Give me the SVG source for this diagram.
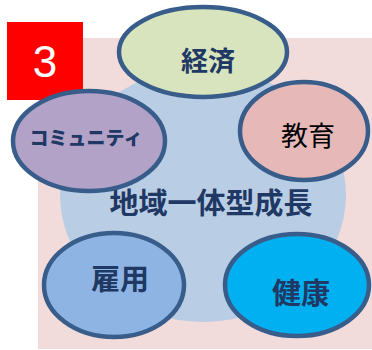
<svg xmlns="http://www.w3.org/2000/svg" width="372" height="350" viewBox="0 0 372 350">
<style>
.node{stroke:#385d8a;stroke-width:4.5}
.t{font-family:"Noto Sans CJK JP","Noto Sans",sans-serif;font-weight:700;fill:#1f3864;text-anchor:middle;dominant-baseline:central}
</style>
<rect x="0" y="0" width="372" height="350" fill="#ffffff"/>
<rect id="bg" x="38" y="38" width="334" height="311" fill="#f2dcdb"/>
<g id="badge">
<rect x="7" y="22" width="76" height="78" fill="#ff0000"/>
<text x="45" y="61" font-family="Liberation Sans,Arial,sans-serif" font-size="44" fill="#ffffff" text-anchor="middle" dominant-baseline="central">3</text>
</g>
<g id="center">
<ellipse cx="203" cy="195" rx="143" ry="127" fill="#b9cde5"/>
<text class="t" x="211" y="201" font-size="29">地域一体型成長</text>
</g>
<g id="connectors"></g>
<g id="keizai">
<ellipse class="node" cx="203" cy="52" rx="84" ry="45" fill="#d7e4bd"/>
<text class="t" x="208" y="59" font-size="27">経済</text>
</g>
<g id="kyoiku">
<ellipse class="node" cx="304" cy="131" rx="64" ry="49" fill="#e6b9b8"/>
<text class="t" x="308" y="134" font-size="27" style="font-weight:400;fill:#000000">教育</text>
</g>
<g id="community">
<ellipse class="node" cx="89" cy="141" rx="76" ry="50" fill="#b3a2c7"/>
<text class="t" x="86" y="136" font-size="19" style="font-weight:900">コミュニティ</text>
</g>
<g id="koyo">
<ellipse class="node" cx="114" cy="285" rx="70" ry="52" fill="#8eb4e3"/>
<text class="t" x="120" y="277" font-size="29">雇用</text>
</g>
<g id="kenko">
<ellipse class="node" cx="297" cy="285" rx="72" ry="51" fill="#00b0f0"/>
<text class="t" x="301" y="291" font-size="29">健康</text>
</g>
</svg>
